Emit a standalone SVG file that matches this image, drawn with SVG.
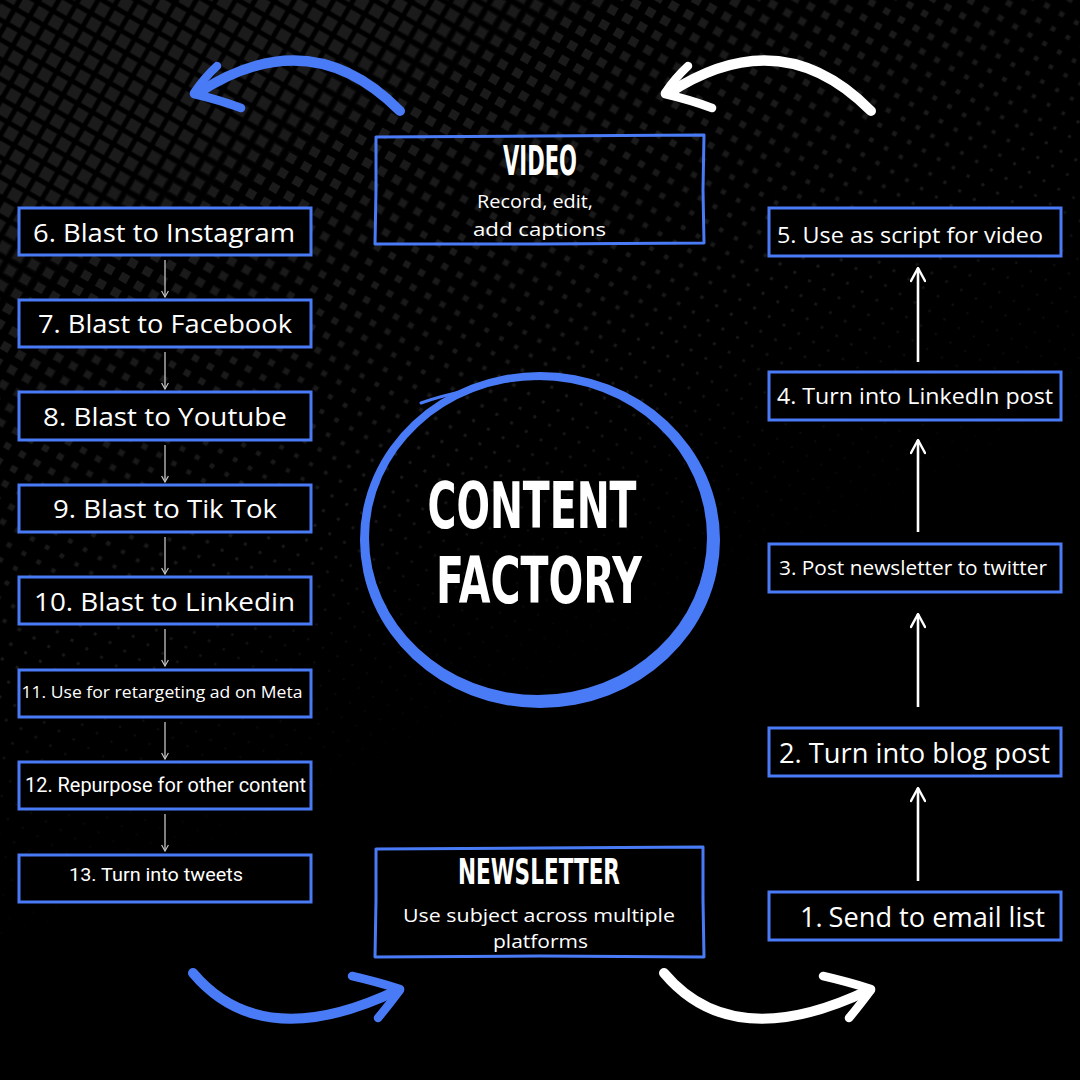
<svg xmlns="http://www.w3.org/2000/svg" width="1080" height="1080" viewBox="0 0 1080 1080">
<defs>
<style>
.box{fill:#000;stroke:#4a7bf7;stroke-width:3}
.frame{fill:none;stroke:#4a7bf7;stroke-width:3;stroke-linejoin:round}
.t{fill:#fff;font-family:"Open Sans","Noto Sans",sans-serif;text-anchor:middle}
.r{fill:#fff;font-family:Roboto,"Liberation Sans",sans-serif;text-anchor:middle}
.title{fill:#fff;font-family:"Liberation Sans Narrow","DejaVu Sans Condensed",sans-serif;font-weight:bold;text-anchor:middle}
.big{fill:#fff;font-family:"Liberation Sans Narrow","DejaVu Sans Condensed",sans-serif;font-weight:bold;text-anchor:middle}
.grey{stroke:#c4c4c4;stroke-width:1.3;fill:none}
.white{stroke:#fff;stroke-width:2.6;fill:none}
.bstroke{fill:none;stroke:#4a7bf7;stroke-linecap:round}
.wstroke{fill:none;stroke:#fff;stroke-linecap:round}
</style>
<pattern id="p1" width="17" height="17" patternUnits="userSpaceOnUse" patternTransform="rotate(30)"><rect x="2.5" y="2.5" width="12" height="12" fill="#1b1b1b"/></pattern>
<pattern id="p2" width="17" height="17" patternUnits="userSpaceOnUse" patternTransform="rotate(30)"><rect x="4" y="4" width="9" height="9" fill="#1b1b1b"/></pattern>
<pattern id="p3" width="17" height="17" patternUnits="userSpaceOnUse" patternTransform="rotate(30)"><rect x="5.25" y="5.25" width="6.5" height="6.5" fill="#1b1b1b"/></pattern>
<pattern id="p4" width="17" height="17" patternUnits="userSpaceOnUse" patternTransform="rotate(30)"><rect x="6.25" y="6.25" width="4.5" height="4.5" fill="#1a1a1a"/></pattern>
<pattern id="p5" width="17" height="17" patternUnits="userSpaceOnUse" patternTransform="rotate(30)"><rect x="7" y="7" width="3" height="3" fill="#181818"/></pattern>
<pattern id="p6" width="17" height="17" patternUnits="userSpaceOnUse" patternTransform="rotate(30)"><rect x="7.6" y="7.6" width="1.8" height="1.8" fill="#161616"/></pattern>
<linearGradient id="g1" gradientUnits="userSpaceOnUse" x1="0" y1="0" x2="400" y2="800"><stop offset="0.22" stop-color="#fff"/><stop offset="0.32" stop-color="#000"/></linearGradient>
<linearGradient id="g2" gradientUnits="userSpaceOnUse" x1="0" y1="0" x2="400" y2="800"><stop offset="0.35" stop-color="#fff"/><stop offset="0.45" stop-color="#000"/></linearGradient>
<linearGradient id="g3" gradientUnits="userSpaceOnUse" x1="0" y1="0" x2="400" y2="800"><stop offset="0.48" stop-color="#fff"/><stop offset="0.57" stop-color="#000"/></linearGradient>
<linearGradient id="g4" gradientUnits="userSpaceOnUse" x1="0" y1="0" x2="400" y2="800"><stop offset="0.58" stop-color="#fff"/><stop offset="0.67" stop-color="#000"/></linearGradient>
<linearGradient id="g5" gradientUnits="userSpaceOnUse" x1="0" y1="0" x2="400" y2="800"><stop offset="0.68" stop-color="#fff"/><stop offset="0.8" stop-color="#000"/></linearGradient>
<linearGradient id="g6" gradientUnits="userSpaceOnUse" x1="0" y1="0" x2="400" y2="800"><stop offset="0.78" stop-color="#fff"/><stop offset="0.98" stop-color="#000"/></linearGradient>
<mask id="m1" maskUnits="userSpaceOnUse" x="0" y="0" width="1080" height="1080"><rect width="1080" height="1080" fill="url(#g1)"/></mask>
<mask id="m2" maskUnits="userSpaceOnUse" x="0" y="0" width="1080" height="1080"><rect width="1080" height="1080" fill="url(#g2)"/></mask>
<mask id="m3" maskUnits="userSpaceOnUse" x="0" y="0" width="1080" height="1080"><rect width="1080" height="1080" fill="url(#g3)"/></mask>
<mask id="m4" maskUnits="userSpaceOnUse" x="0" y="0" width="1080" height="1080"><rect width="1080" height="1080" fill="url(#g4)"/></mask>
<mask id="m5" maskUnits="userSpaceOnUse" x="0" y="0" width="1080" height="1080"><rect width="1080" height="1080" fill="url(#g5)"/></mask>
<mask id="m6" maskUnits="userSpaceOnUse" x="0" y="0" width="1080" height="1080"><rect width="1080" height="1080" fill="url(#g6)"/></mask>
<marker id="ah-grey" viewBox="0 0 8 8" refX="7" refY="4" markerWidth="8" markerHeight="8" markerUnits="userSpaceOnUse" orient="auto"><path d="M1,0.6 L7,4 L1,7.4" fill="none" stroke="#c4c4c4" stroke-width="1.2"/></marker>
<marker id="ah-white" viewBox="0 0 16 16" refX="14.5" refY="8" markerWidth="16" markerHeight="16" markerUnits="userSpaceOnUse" orient="auto"><path d="M1.5,1 L14.5,8 L1.5,15" fill="none" stroke="#fff" stroke-width="2.4" stroke-linecap="round" stroke-linejoin="round"/></marker>
</defs>

<g id="background">
<rect width="1080" height="1080" fill="#000"/>
<rect width="1080" height="1080" fill="url(#p6)" mask="url(#m6)"/>
<rect width="1080" height="1080" fill="url(#p5)" mask="url(#m5)"/>
<rect width="1080" height="1080" fill="url(#p4)" mask="url(#m4)"/>
<rect width="1080" height="1080" fill="url(#p3)" mask="url(#m3)"/>
<rect width="1080" height="1080" fill="url(#p2)" mask="url(#m2)"/>
<rect width="1080" height="1080" fill="url(#p1)" mask="url(#m1)"/>
</g>

<g id="connectors">
<path class="grey" d="M165,260 L165,297" marker-end="url(#ah-grey)"/>
<path class="grey" d="M165,352 L165,389" marker-end="url(#ah-grey)"/>
<path class="grey" d="M165,445 L165,482" marker-end="url(#ah-grey)"/>
<path class="grey" d="M165,537 L165,574" marker-end="url(#ah-grey)"/>
<path class="grey" d="M165,629 L165,666" marker-end="url(#ah-grey)"/>
<path class="grey" d="M165,722 L165,759" marker-end="url(#ah-grey)"/>
<path class="grey" d="M165,814 L165,851" marker-end="url(#ah-grey)"/>
<path class="white" d="M918,362 L918,268" marker-end="url(#ah-white)"/>
<path class="white" d="M918,532 L918,440" marker-end="url(#ah-white)"/>
<path class="white" d="M918,707 L918,614" marker-end="url(#ah-white)"/>
<path class="white" d="M918,881 L918,788" marker-end="url(#ah-white)"/>
<g id="arrow-top-blue">
<path class="bstroke" stroke-width="10" d="M400,111 Q310,20 198,93"/>
<path class="bstroke" stroke-width="8.5" d="M194,93 Q204,78 217,66"/>
<path class="bstroke" stroke-width="8.5" d="M194,94 Q220,100 241,108"/>
</g>
<g id="arrow-top-white" transform="translate(471,0)">
<path class="wstroke" stroke-width="10" d="M400,111 Q310,20 198,93"/>
<path class="wstroke" stroke-width="8.5" d="M194,93 Q204,78 217,66"/>
<path class="wstroke" stroke-width="8.5" d="M194,94 Q220,100 241,108"/>
</g>
<g id="arrow-bottom-blue">
<path class="bstroke" stroke-width="10" d="M193,973 Q262,1055 398,990"/>
<path class="bstroke" stroke-width="8.5" d="M400,989 Q374,981 352,976"/>
<path class="bstroke" stroke-width="8.5" d="M400,990 Q388,1006 378,1018"/>
</g>
<g id="arrow-bottom-white" transform="translate(471,0)">
<path class="wstroke" stroke-width="10" d="M193,973 Q262,1055 398,990"/>
<path class="wstroke" stroke-width="8.5" d="M400,989 Q374,981 352,976"/>
<path class="wstroke" stroke-width="8.5" d="M400,990 Q388,1006 378,1018"/>
</g>
</g>

<g id="content-factory">
<path fill="#4a7bf7" fill-rule="evenodd" d="M360,540 A180,168 0 1,0 720,540 A180,168 0 1,0 360,540 Z M369,537.5 A169,157.5 0 1,0 707,537.5 A169,157.5 0 1,0 369,537.5 Z"/>
<path fill="none" stroke="#4a7bf7" stroke-width="3" stroke-linecap="round" d="M470,390 Q440,396 421,403"/>
<text class="big" x="532" y="528" font-size="64" textLength="209" lengthAdjust="spacingAndGlyphs">CONTENT</text>
<text class="big" x="539" y="603" font-size="64" textLength="206" lengthAdjust="spacingAndGlyphs">FACTORY</text>
</g>

<g id="video">
<path class="frame" d="M376,137 L540,136 L704,135 L703,190 L704,243 L540,244 L375,244 L376,190 Z"/>
<text class="title" x="540" y="175" font-size="40" textLength="74" lengthAdjust="spacingAndGlyphs">VIDEO</text>
<text class="t" x="535" y="208" font-size="18" textLength="116" lengthAdjust="spacingAndGlyphs">Record, edit,</text>
<text class="t" x="539.5" y="236" font-size="18" textLength="133" lengthAdjust="spacingAndGlyphs">add captions</text>
</g>

<g id="newsletter">
<path class="frame" d="M376,849 L540,848 L703,847 L703,900 L704,957 L540,956 L375,957 L376,900 Z" style="fill:#000"/>
<text class="title" x="539" y="884" font-size="36" textLength="162" lengthAdjust="spacingAndGlyphs">NEWSLETTER</text>
<text class="t" x="539" y="922" font-size="19" textLength="272" lengthAdjust="spacingAndGlyphs">Use subject across multiple</text>
<text class="t" x="540.5" y="948" font-size="19" textLength="95" lengthAdjust="spacingAndGlyphs">platforms</text>
</g>

<g id="step6"><rect class="box" x="19" y="208" width="292" height="47"/><text class="t" x="164" y="242" font-size="26" textLength="262" lengthAdjust="spacingAndGlyphs">6. Blast to Instagram</text></g>
<g id="step7"><rect class="box" x="19" y="300" width="292" height="47"/><text class="t" x="165" y="333" font-size="26" textLength="254" lengthAdjust="spacingAndGlyphs">7. Blast to Facebook</text></g>
<g id="step8"><rect class="box" x="19" y="392" width="292" height="48"/><text class="t" x="165" y="426" font-size="26" textLength="244" lengthAdjust="spacingAndGlyphs">8. Blast to Youtube</text></g>
<g id="step9"><rect class="box" x="19" y="485" width="292" height="47"/><text class="t" x="165" y="518" font-size="26" textLength="224" lengthAdjust="spacingAndGlyphs">9. Blast to Tik Tok</text></g>
<g id="step10"><rect class="box" x="19" y="577" width="292" height="47"/><text class="t" x="164.5" y="611" font-size="26" textLength="261" lengthAdjust="spacingAndGlyphs">10. Blast to Linkedin</text></g>
<g id="step11"><rect class="box" x="19" y="670" width="292" height="47"/><text class="t" x="162" y="698" font-size="17" textLength="281" lengthAdjust="spacingAndGlyphs">11. Use for retargeting ad on Meta</text></g>
<g id="step12"><rect class="box" x="19" y="762" width="292" height="47"/><text class="r" x="165.5" y="792" font-size="20" textLength="281" lengthAdjust="spacingAndGlyphs">12. Repurpose for other content</text></g>
<g id="step13"><rect class="box" x="19" y="855" width="292" height="47"/><text class="r" x="156" y="881" font-size="19" textLength="174" lengthAdjust="spacingAndGlyphs">13. Turn into tweets</text></g>

<g id="step5"><rect class="box" x="769" y="208" width="292" height="48"/><text class="t" x="910" y="243" font-size="22" textLength="266" lengthAdjust="spacingAndGlyphs">5. Use as script for video</text></g>
<g id="step4"><rect class="box" x="769" y="372" width="292" height="48"/><text class="t" x="915" y="404" font-size="22" textLength="276" lengthAdjust="spacingAndGlyphs">4. Turn into LinkedIn post</text></g>
<g id="step3"><rect class="box" x="769" y="544" width="292" height="48"/><text class="t" x="913" y="575" font-size="20" textLength="268" lengthAdjust="spacingAndGlyphs">3. Post newsletter to twitter</text></g>
<g id="step2"><rect class="box" x="769" y="728" width="292" height="48"/><text class="t" x="914.5" y="763" font-size="28" textLength="271" lengthAdjust="spacingAndGlyphs">2. Turn into blog post</text></g>
<g id="step1"><rect class="box" x="769" y="892" width="292" height="48"/><text class="t" x="922.5" y="927" font-size="28" textLength="245" lengthAdjust="spacingAndGlyphs">1.<tspan dx="6">Send to email list</tspan></text></g>
</svg>
